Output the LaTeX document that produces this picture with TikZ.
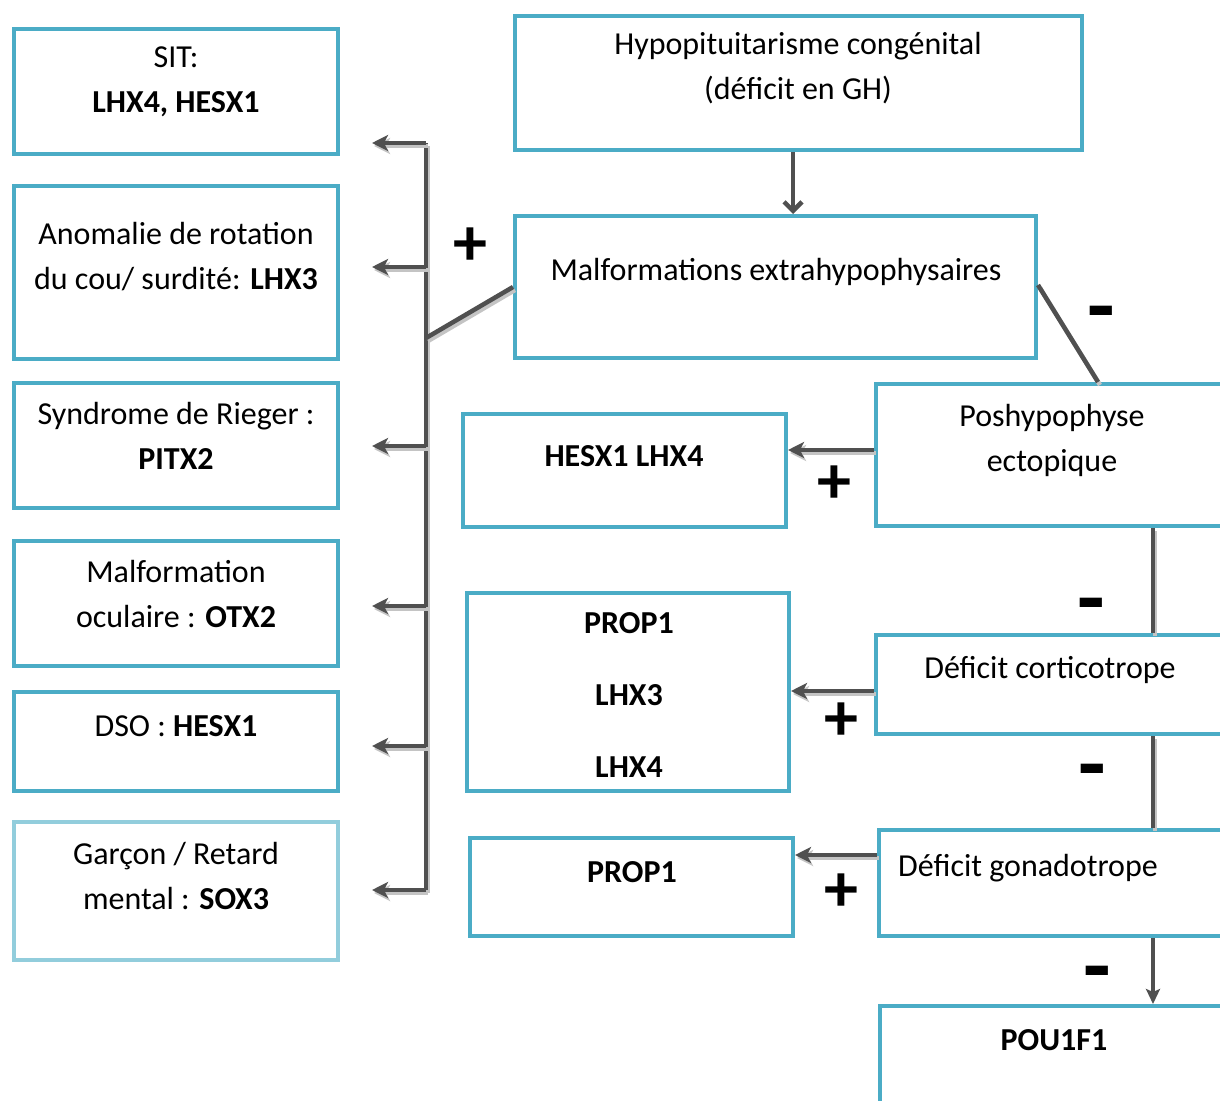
\documentclass[tikz,border=0pt]{standalone}
\usepackage{fontspec}
\setmainfont{Carlito}
\usetikzlibrary{arrows.meta,fit}
\definecolor{bblue}{HTML}{4BACC6}
\definecolor{lblue}{HTML}{92CDDC}
\definecolor{lgray}{HTML}{505050}
\definecolor{sgray}{HTML}{C4C4C4}
\begin{document}
\begin{tikzpicture}[x=1pt,y=-1pt,
  box/.style={draw=bblue,line width=4pt,inner sep=0pt},
  lbox/.style={box,draw=lblue},
  txt/.style={font=\fontsize{32}{45}\selectfont,align=center,inner sep=0pt},
  sgn/.style={font=\fontsize{68}{68}\selectfont\bfseries,inner sep=0pt},
  msgn/.style={font=\fontsize{90}{90}\selectfont\bfseries,inner sep=0pt},
  con/.style={draw=lgray,line width=4.5pt,preaction={draw=sgray,line width=4.5pt,transform canvas={shift={(2pt,-3pt)}}}},
  arr/.style={con,-{Stealth[length=16pt,width=16pt,inset=4pt]}},
  barb/.style={draw=lgray,line width=4.5pt,-{Straight Barb[length=9pt,width=18pt,line width=4.5pt]}},
  darr/.style={draw=lgray,line width=4.5pt,-{Stealth[length=15pt,width=14pt,inset=3pt]}},
]
\useasboundingbox (0,0) rectangle (1220,1100);
\clip (0,0) rectangle (1220,1100);

% left boxes
\node[box,fit={(14,29) (338,154)}] (sit) {};
\node[box,fit={(14,186) (338,359)}] (anom) {};
\node[box,fit={(14,383) (338,508)}] (rieg) {};
\node[box,fit={(14,541) (338,666)}] (ocul) {};
\node[box,fit={(14,692) (338,791)}] (dso) {};
\node[lbox,fit={(14,822) (338,960)}] (garc) {};
% right boxes
\node[box,fit={(515,16) (1082,150)}] (hypo) {};
\node[box,fit={(515,216) (1036,358)}] (malf) {};
\node[box,fit={(876,384) (1260,526)}] (posh) {};
\node[box,fit={(463,414) (786,527)}] (hesx) {};
\node[box,fit={(467,593) (789,791)}] (propl) {};
\node[box,fit={(876,635) (1260,734)}] (cort) {};
\node[box,fit={(470,838) (793,936)}] (prop) {};
\node[box,fit={(879,830) (1260,936)}] (gona) {};
\node[box,fit={(880,1006) (1260,1140)}] (pou) {};

% texts
\node[txt] (tsit) at (176,82) {SIT:\\\textbf{LHX4, HESX1}};
\node[txt] (tanom) at (176,257) {Anomalie de rotation\\du cou/ surdité: \textbf{LHX3}};
\node[txt] (trieg) at (176,436) {Syndrome de Rieger :\\\textbf{PITX2}};
\node[txt] (tocul) at (176,594) {Malformation\\oculaire : \textbf{OTX2}};
\node[txt] (tdso) at (176,726) {DSO : \textbf{HESX1}};
\node[txt] (tgarc) at (176,876) {Garçon / Retard\\mental : \textbf{SOX3}};
\node[txt] (thypo) at (798,68) {Hypopituitarisme congénital\\(déficit en GH)};
\node[txt] (tmalf) at (776,272) {Malformations extrahypophysaires};
\node[txt] (tposh) at (1052,440) {Poshypophyse\\ectopique};
\node[txt] (thesx) at (624,456) {\textbf{HESX1 LHX4}};
\node[txt,font=\fontsize{32}{72}\selectfont] (tpropl) at (629,695) {\textbf{PROP1}\\\textbf{LHX3}\\\textbf{LHX4}};
\node[txt] (tcort) at (1050,670) {Déficit corticotrope};
\node[txt,anchor=west] (tgona) at (898,868) {Déficit gonadotrope};
\node[txt] (tprop) at (632,872) {\textbf{PROP1}};
\node[txt] (tpou) at (1054,1040) {\textbf{POU1F1}};

% signs
\node[sgn] (s1) at (470,247) {+};
\node[msgn] (s2) at (1101,321) {-};
\node[sgn] (s3) at (834,485) {+};
\node[msgn] (s4) at (1091,613) {-};
\node[sgn] (s5) at (841,722) {+};
\node[msgn] (s6) at (1092,779) {-};
\node[sgn] (s7) at (841,893) {+};
\node[msgn] (s8) at (1097,981) {-};

% bus coordinates
\coordinate (b1) at (426,143);
\coordinate (b2) at (426,267);
\coordinate (bj) at (426,338);
\coordinate (b3) at (426,446);
\coordinate (b4) at (426,606);
\coordinate (b5) at (426,746);
\coordinate (b6) at (426,890);
\coordinate (e1) at (372,143);
\coordinate (e2) at (372,267);
\coordinate (e3) at (372,446);
\coordinate (e4) at (372,606);
\coordinate (e5) at (372,746);
\coordinate (e6) at (372,890);

\draw[con] (b1) -- (b6);
\draw[arr] (b1) -- (e1);
\draw[arr] (b2) -- (e2);
\draw[arr] (b3) -- (e3);
\draw[arr] (b4) -- (e4);
\draw[arr] (b5) -- (e5);
\draw[arr] (b6) -- (e6);
\draw[con] (malf.west) -- (bj);

% right chain
\draw[barb] (hypo.south -| 793,0) -- (malf.north -| 793,0);
\coordinate (pt) at (1098,382);
\draw[con] (1038,285) -- (pt);
\draw[arr] (posh.west |- 0,450) -- (hesx.east |- 0,450);
\draw[con] (posh.south -| 1153,0) -- (cort.north -| 1153,0);
\draw[arr] (cort.west |- 0,691) -- (propl.east |- 0,691);
\draw[con] (cort.south -| 1153,0) -- (gona.north -| 1153,0);
\draw[arr] (gona.west |- 0,855) -- (prop.east |- 0,855);
\draw[darr] (gona.south -| 1153,0) -- (pou.north -| 1153,0);
\end{tikzpicture}
\end{document}
